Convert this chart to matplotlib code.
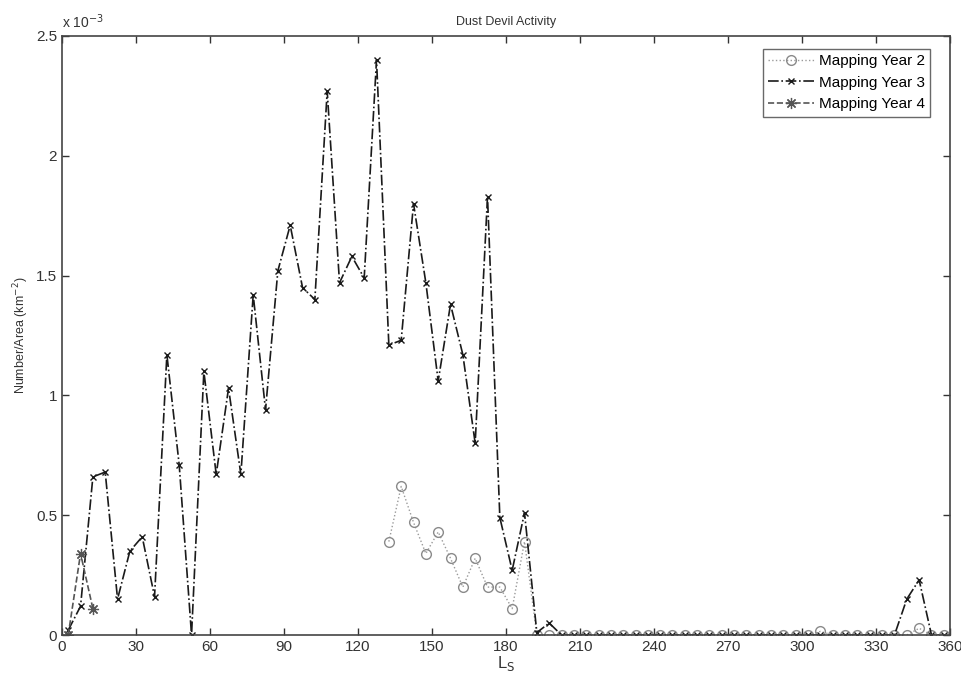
import numpy as np
import matplotlib
matplotlib.use("Agg")
import matplotlib.pyplot as plt

plt.rcParams['font.family'] = ['Liberation Sans', 'DejaVu Sans']

# Solar longitude bin centres (deg)
ls = np.arange(2.5, 360, 5)

# Number/Area values in units of 1e-3 km^-2
year2_ls = ls[ls >= 132.5]
year2 = [0.39, 0.62, 0.47, 0.34, 0.43, 0.32, 0.20, 0.32, 0.20, 0.20, 0.11, 0.39,
         0.0, 0.0, 0.0, 0.0, 0.0, 0.0, 0.0, 0.0, 0.0, 0.0,
         0.0, 0.0, 0.0, 0.0, 0.0, 0.0, 0.0, 0.0, 0.0, 0.0,
         0.0, 0.0, 0.0, 0.015, 0.0, 0.0, 0.0, 0.0, 0.0, 0.0,
         0.0, 0.028, 0.0, 0.0]

year3 = [0.02, 0.12, 0.66, 0.68, 0.15, 0.35, 0.41, 0.16, 1.17, 0.71,
         0.0, 1.10, 0.67, 1.03, 0.67, 1.42, 0.94, 1.52, 1.71, 1.45,
         1.40, 2.27, 1.47, 1.58, 1.49, 2.40, 1.21, 1.23, 1.80, 1.47,
         1.06, 1.38, 1.17, 0.80, 1.83, 0.49, 0.27, 0.51, 0.01, 0.05,
         0.0, 0.0, 0.0, 0.0, 0.0, 0.0, 0.0, 0.0, 0.0, 0.0,
         0.0, 0.0, 0.0, 0.0, 0.0, 0.0, 0.0, 0.0, 0.0, 0.0,
         0.0, 0.0, 0.0, 0.0, 0.0, 0.0, 0.0, 0.0, 0.15, 0.23,
         0.0, 0.0]

year4_ls = ls[:3]
year4 = [0.0, 0.34, 0.11]

fig = plt.figure(figsize=(9.62, 6.79), dpi=100)
ax = fig.add_axes([0.0645, 0.0648, 0.923, 0.8822])

ax.plot(year2_ls, year2, linestyle=':', color='#9a9a9a', marker='o',
        markersize=7, markerfacecolor='none', markeredgecolor='#8a8a8a',
        linewidth=1.0, label='Mapping Year 2')
ax.plot(ls, year3, linestyle='-.', color='#1a1a1a', marker='x',
        markersize=5, linewidth=1.2, label='Mapping Year 3')
# MATLAB-style asterisk marker (thin arms)
ax.plot(year4_ls, year4, linestyle='--', color='#555555', marker=(8, 2, 0),
        markersize=8, markeredgewidth=0.9, linewidth=1.2, label='Mapping Year 4')

ax.set_xlim(0, 360)
ax.set_ylim(0, 2.5)
ax.set_xticks(np.arange(0, 361, 30))
ax.set_yticks([0, 0.5, 1, 1.5, 2, 2.5])
ax.set_yticklabels(['0', '0.5', '1', '1.5', '2', '2.5'])
ax.tick_params(direction='in', top=True, right=True, labelsize=11,
               length=5, width=1, colors='#333333')
for sp in ax.spines.values():
    sp.set_color('#444444')
    sp.set_linewidth(1.2)

ax.text(0.0, 1.008, 'x 10$^{-3}$', transform=ax.transAxes, fontsize=10,
        ha='left', va='bottom', color='#333333')
ax.set_title('Dust Devil Activity', fontsize=9, color='#333333', pad=8)
ax.set_ylabel('Number/Area (km$^{-2}$)', fontsize=9, color='#333333', labelpad=4)
ax.set_xlabel('L$_\\mathrm{S}$', fontsize=12, color='#333333', labelpad=0)

leg = ax.legend(loc='upper right', fontsize=11, frameon=True, fancybox=False,
                borderpad=0.35, handlelength=3.0, handletextpad=0.3,
                labelspacing=0.5, borderaxespad=0.0,
                bbox_to_anchor=(0.9775, 0.979))
leg.get_frame().set_edgecolor('#444444')
leg.get_frame().set_linewidth(1.0)

fig.savefig('out.png', dpi=100)
